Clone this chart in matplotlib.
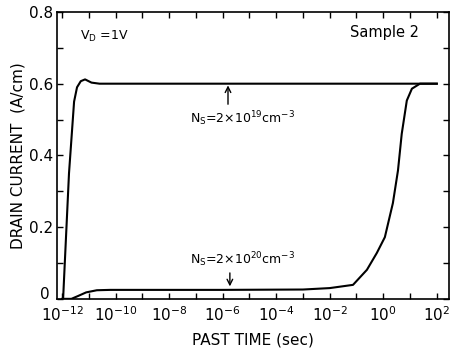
import numpy as np
import matplotlib
matplotlib.use('Agg')
import matplotlib.pyplot as plt
import matplotlib.transforms as mtransforms
from matplotlib.ticker import NullFormatter

ns19_logt = [-11.96, -11.74, -11.55, -11.44, -11.30, -11.14, -10.90, -10.60, -8.0, -4.0, 0.0, 2.0]
ns19_cur = [0.0, 0.35, 0.55, 0.59, 0.607, 0.612, 0.603, 0.60, 0.60, 0.60, 0.60, 0.60]

ns20_logt = [-12.0, -11.65, -11.4, -11.1, -10.7, -10.2, -6.0, -3.0, -2.0, -1.13, -0.61,
             -0.24, 0.06, 0.36, 0.55, 0.69, 0.88, 1.07, 1.37, 2.0]
ns20_cur = [0.0, 0.0, 0.008, 0.018, 0.024, 0.025, 0.025, 0.026, 0.030, 0.039, 0.081,
            0.128, 0.172, 0.267, 0.358, 0.46, 0.553, 0.586, 0.60, 0.60]

xmajor = np.arange(-12, 3, 2)
xminor = np.arange(-11, 3, 2)
ymajor = [0, 0.2, 0.4, 0.6, 0.8]
ylabels = ['0', '0.2', '0.4', '0.6', '0.8']

fig = plt.figure(figsize=(4.52, 3.52), dpi=100)
ax = fig.add_axes([0.126, 0.151, 0.867, 0.815])

ax.plot(10.0**np.array(ns19_logt), ns19_cur, color='black', lw=1.5)
ax.plot(10.0**np.array(ns20_logt), ns20_cur, color='black', lw=1.5)

ax.set_xscale('log')
ax.set_xlim(10**-12.19, 10**2.45)
ax.set_ylim(0, 0.8)

ax.set_xticks(10.0**xmajor)
ax.set_xticklabels([r'$\mathregular{10^{%d}}$' % e for e in xmajor])
ax.set_xticks(10.0**xminor, minor=True)
ax.xaxis.set_minor_formatter(NullFormatter())
ax.set_yticks(ymajor)
ax.set_yticklabels(ylabels)
ax.set_yticks([0.1, 0.3, 0.5, 0.7], minor=True)

ax.tick_params(which='both', direction='in', top=True, right=True, length=4, width=1)
ax.tick_params(axis='both', labelsize=11)
ax.tick_params(axis='x', pad=5)
ax.tick_params(axis='y', pad=3)
for s in ax.spines.values():
    s.set_linewidth(1.2)

# lift the "0" label a little so it clears 10^-12
lab0 = ax.get_yticklabels()[0]
lab0.set_transform(lab0.get_transform() + mtransforms.ScaledTranslation(-2/72, 4/72, fig.dpi_scale_trans))

ax.set_xlabel('PAST TIME (sec)', fontsize=11, labelpad=6)
ax.set_ylabel('DRAIN CURRENT  (A/cm)', fontsize=11, labelpad=2)

ax.text(10**-11.33, 0.733, r'V$_\mathregular{D}$ =1V', fontsize=9, va='center')
ax.text(10**-1.25, 0.742, 'Sample 2', fontsize=10.5, va='center')

ax.text(10**-7.22, 0.503, r'N$_\mathregular{S}$=2×10$^\mathregular{19}$cm$^\mathregular{-3}$',
        fontsize=9, va='center')
ax.annotate('', xy=(10**-5.8, 0.603), xytext=(10**-5.8, 0.535),
            arrowprops=dict(arrowstyle='->', color='black', lw=1.0))

ax.text(10**-7.22, 0.108, r'N$_\mathregular{S}$=2×10$^\mathregular{20}$cm$^\mathregular{-3}$',
        fontsize=9, va='center')
ax.annotate('', xy=(10**-5.73, 0.027), xytext=(10**-5.73, 0.08),
            arrowprops=dict(arrowstyle='->', color='black', lw=1.0))

fig.savefig('out.png', dpi=100)
